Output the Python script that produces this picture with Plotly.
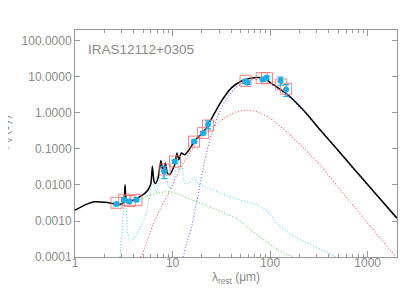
import plotly.graph_objects as go

# ---------------- data ----------------
# total model (black solid)
tot_wl = [1.0, 1.27, 1.6, 2.03, 2.56, 2.9, 3.15, 3.26, 3.36, 3.6, 4.26, 5.0, 5.61, 6.0, 6.21, 6.45,
          6.7, 7.11, 7.6, 8.0, 8.44, 8.85, 9.36, 10.5, 11.1, 11.6, 12.3, 13.3, 14.4, 15.6, 16.6,
          18.2, 20.5, 23.1, 27, 31.6, 39.9, 50.5, 63.9, 78, 90, 102, 120, 152, 225, 332, 492,
          730, 1079, 2000]
tot_f = [0.0020, 0.0028, 0.0034, 0.0033, 0.0030, 0.0029, 0.0033, 0.0100, 0.0037, 0.0035, 0.0042,
         0.0054, 0.0074, 0.011, 0.033, 0.013, 0.011, 0.016, 0.048, 0.023, 0.041, 0.021, 0.0195,
         0.036, 0.078, 0.050, 0.078, 0.069, 0.087, 0.12, 0.16, 0.21, 0.28, 0.47, 1.0, 2.1, 4.9,
         7.6, 9.3, 9.6, 8.9, 6.8, 5.1, 3.2, 1.11, 0.32, 0.095, 0.0275, 0.0081, 0.0012]

# cold dust (blue dotted)
cold_wl = [12.8, 14, 15.6, 18.2, 21.3, 24.9, 29, 34, 43, 53, 65, 78, 102, 120, 152, 225, 332, 492,
           730, 1079, 2000]
cold_f = [0.0001, 0.00025, 0.00065, 0.005, 0.046, 0.25, 0.8, 2.0, 4.6, 6.9, 8.3, 8.5, 6.2, 4.7,
          3.0, 1.05, 0.31, 0.091, 0.026, 0.0078, 0.00115]

# warm dust (red dotted)
warm_wl = [4.7, 5.2, 6.3, 7.7, 9.4, 11, 13, 15, 18, 23, 29, 36, 45, 57, 75, 100, 152, 225, 332,
           492, 730, 1079, 2000]
warm_f = [0.0001, 0.00018, 0.0008, 0.0025, 0.007, 0.018, 0.042, 0.08, 0.16, 0.30, 0.52, 0.79,
          1.07, 1.2, 1.07, 0.71, 0.28, 0.1, 0.034, 0.0091, 0.0025, 0.00069, 0.000093]

# hot dust (green dotted)
hot_wl = [4.6, 5.5, 7.1, 9.0, 11.4, 15.6, 23, 29, 37, 47, 55, 81, 120, 170]
hot_f = [0.0038, 0.005, 0.006, 0.0066, 0.0056, 0.0039, 0.0026, 0.002, 0.0015, 0.0011, 0.00076,
         0.00034, 0.00016, 0.0001]

# PAH (cyan dotted)
pah_wl = [2.9, 3.0, 3.1, 3.2, 3.27, 3.33, 3.45, 3.65, 3.9, 4.26, 4.6, 5.0, 5.4, 5.7, 6.0, 6.21,
          6.45, 6.8, 7.2, 7.6, 8.0, 8.44, 8.85, 9.36, 10.2, 11.1, 11.6, 12.3, 13.3, 14.5, 16.8,
          18.2, 21.3, 29, 37, 47, 60, 75, 95, 120, 178, 262, 390, 470]
pah_f = [0.0001, 0.00032, 0.0013, 0.0032, 0.0063, 0.0032, 0.0005, 0.00028, 0.0003, 0.00042,
         0.0006, 0.001, 0.0016, 0.004, 0.008, 0.028, 0.009, 0.0063, 0.011, 0.04, 0.016, 0.032,
         0.011, 0.008, 0.011, 0.05, 0.025, 0.045, 0.011, 0.011, 0.016, 0.011, 0.009, 0.0066,
         0.0049, 0.0040, 0.0033, 0.0027, 0.0018, 0.0008, 0.00037, 0.00022, 0.00013, 0.0001]

# observed photometry (cyan circles)
obs_wl = [2.66, 3.17, 3.59, 4.26, 8.2, 10.5, 16.6, 20.5, 23.1, 55.5, 58.5, 84, 92, 128, 146]
obs_f = [0.00295, 0.0039, 0.0035, 0.0039, 0.024, 0.045, 0.162, 0.275, 0.48, 7.6, 6.9, 8.5, 9.5,
         7.9, 4.5]
obs_err = [0.0003, 0.0004, 0.0003, 0.0004, 0.009, 0.005, 0.016, 0.03, 0.12, 0.8, 0.7, 0.9, 1.0,
           2.0, 1.6]

# model photometry (red open squares)
mod_wl = [2.66, 3.2, 3.65, 4.26, 8.3, 10.6, 16.6, 20.6, 23.1, 56, 82, 93, 130, 146]
mod_f = [0.0032, 0.0039, 0.0036, 0.0038, 0.027, 0.045, 0.16, 0.28, 0.45, 7.8, 9.3, 9.3, 6.2, 4.7]

y_tickvals = [1e-4, 1e-3, 1e-2, 1e-1, 1, 10, 100]
y_ticktext = ["0.0001", "0.0010", "0.0100", "0.1000", "1.0000", "10.0000", "100.0000"]
x_tickvals = [1, 10, 100, 1000]
x_ticktext = ["1", "10", "100", "1000"]
x_minor = [m * 10 ** k for k in range(0, 4) for m in range(2, 10) if m * 10 ** k <= 2000]

# ---------------- figure ----------------
fig = go.Figure()

def dotted(x, y, color):
    fig.add_trace(go.Scatter(x=x, y=y, mode="lines", line=dict(color=color, width=1.1, dash="1px,2px",
                             shape="spline", smoothing=0.6), hoverinfo="skip", showlegend=False))

dotted(hot_wl, hot_f, "#66dd66")
dotted(pah_wl, pah_f, "#55d8ff")
dotted(warm_wl, warm_f, "#ff5a5a")
dotted(cold_wl, cold_f, "#6a6aff")

fig.add_trace(go.Scatter(x=tot_wl, y=tot_f, mode="lines",
                         line=dict(color="black", width=1.5, shape="spline", smoothing=0.5),
                         showlegend=False))

fig.add_trace(go.Scatter(x=mod_wl, y=mod_f, mode="markers",
                         marker=dict(symbol="square-open", size=11, color="rgba(245,110,110,0.85)",
                                     line=dict(width=1)),
                         showlegend=False))

fig.add_trace(go.Scatter(x=obs_wl, y=obs_f, mode="markers",
                         marker=dict(symbol="circle", size=6, color="#1aaee8"),
                         error_y=dict(type="data", array=obs_err, visible=True, color="#1aaee8",
                                      thickness=1.2, width=3),
                         showlegend=False))

axis_common = dict(showline=True, linecolor="#999999", linewidth=1, mirror="ticks",
                   ticks="inside", tickcolor="#999999", showgrid=False, zeroline=False,
                   tickfont=dict(family="Liberation Sans", size=12, color="#8a8a8a"))

fig.update_xaxes(type="log", range=[0, 3.301], tickmode="array", tickvals=x_tickvals,
                 ticktext=x_ticktext, ticklen=6, ticklabelstandoff=-5,
                 minor=dict(ticks="inside", ticklen=3, tickcolor="#999999", tickmode="array",
                            tickvals=x_minor),
                 title=dict(text="λ<sub>rest</sub> (μm)", font=dict(family="Liberation Sans",
                            size=12, color="#8a8a8a"), standoff=0),
                 **axis_common)
fig.update_yaxes(type="log", range=[-4, 2.305], tickmode="array", tickvals=y_tickvals,
                 ticktext=y_ticktext, ticklen=5, **axis_common)

fig.add_annotation(text="IRAS12112+0305", xref="paper", yref="paper", x=0.035, y=0.915,
                   xanchor="left", yanchor="middle", showarrow=False,
                   font=dict(family="Liberation Sans", size=13.5, color="#8a8a8a"))
fig.add_annotation(text="F<sub>ν</sub> (Jy)", xref="paper", yref="paper", x=-0.213, y=0.55,
                   xanchor="center", yanchor="middle", textangle=-90, showarrow=False,
                   font=dict(family="Liberation Sans", size=12, color="#8a8a8a"))

fig.update_layout(width=409, height=292, margin=dict(l=67, r=20, t=22, b=43),
                  paper_bgcolor="white", plot_bgcolor="white")

fig.write_html("out.html")
